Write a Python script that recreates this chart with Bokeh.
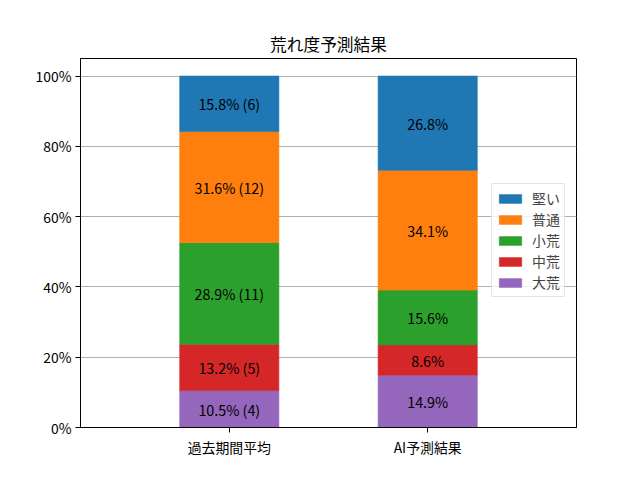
from bokeh.plotting import figure
from bokeh.models import ColumnDataSource, Range1d, FixedTicker, PrintfTickFormatter, Legend, LegendItem
from bokeh.core.properties import value
from bokeh.embed import file_html
from bokeh.resources import INLINE

# ---- data ----
categories = ["過去期間平均", "AI予測結果"]
levels = ["大荒", "中荒", "小荒", "普通", "堅い"]  # bottom -> top
daiare = [10.5, 14.9]
chuare = [13.2, 8.6]
shoare = [28.9, 15.6]
futsu = [31.6, 34.1]
katai = [15.8, 26.8]
past_counts = [4, 5, 11, 12, 6]  # per level for 過去期間平均
colors = ["#9467bd", "#d62728", "#2ca02c", "#ff7f0e", "#1f77b4"]
title_text = "荒れ度予測結果"

FONT = "Noto Sans CJK JP"
series = [daiare, chuare, shoare, futsu, katai]
xs = list(range(len(categories)))

p = figure(frame_width=496, frame_height=369, output_backend="svg", toolbar_location=None,
           x_range=Range1d(-0.75, 1.75), y_range=Range1d(0, 105),
           min_border_left=80, min_border_right=56, min_border_top=58, min_border_bottom=45,
           title=title_text)
p.title.align = "center"
p.title.text_font = FONT
p.title.text_font_style = "normal"
p.title.text_font_size = "16.7px"
p.title.text_color = "black"
p.title.standoff = 5

renderers = []
bottom = [0.0] * len(categories)
label_x, label_y, label_t = [], [], []
for i, (lv, vals, col) in enumerate(zip(levels, series, colors)):
    top = [b + v for b, v in zip(bottom, vals)]
    src = ColumnDataSource(dict(x=xs, bottom=bottom, top=top))
    r = p.vbar(x="x", width=0.5, bottom="bottom", top="top", source=src,
               fill_color=col, line_color=col, line_width=0.6)
    renderers.append((lv, r))
    for j in xs:
        label_x.append(j)
        label_y.append((bottom[j] + top[j]) / 2)
        if j == 0:
            label_t.append(f"{vals[j]:.1f}% ({past_counts[i]})")
        else:
            label_t.append(f"{vals[j]:.1f}%")
    bottom = top

p.text(x=label_x, y=label_y, text=label_t, text_align="center", text_baseline="middle",
       text_font=value(FONT), text_font_size="14.3px", text_color="black")

# axes
p.xaxis.ticker = FixedTicker(ticks=xs)
p.xaxis.major_label_overrides = {i: c for i, c in enumerate(categories)}
p.yaxis.ticker = FixedTicker(ticks=[0, 20, 40, 60, 80, 100])
p.yaxis.formatter = PrintfTickFormatter(format="%d%%")
for ax in (p.xaxis, p.yaxis):
    ax.major_label_text_font = FONT
    ax.major_label_text_font_size = "13.9px"
    ax.major_label_text_color = "black"
    ax.minor_tick_line_color = None
    ax.major_tick_out = 5
    ax.major_tick_in = 0
    ax.major_tick_line_color = "black"
    ax.axis_line_color = "black"
    ax.major_label_standoff = 4
p.xgrid.grid_line_color = None
p.ygrid.grid_line_color = "#b0b0b0"
p.ygrid.grid_line_width = 1
p.outline_line_color = "black"
p.outline_line_width = 1
p.outline_line_alpha = 1

items = [LegendItem(label=lv, renderers=[r]) for lv, r in reversed(renderers)]
legend = Legend(items=items, location=(411, 130), margin=0, padding=4,
                glyph_width=28, glyph_height=11, label_height=14, spacing=1,
                label_standoff=8, label_text_font=FONT, label_text_font_size="13.9px",
                border_line_color="#cccccc", background_fill_alpha=0.8)
p.add_layout(legend, "center")

open("out.html", "w").write(file_html(p, INLINE))
